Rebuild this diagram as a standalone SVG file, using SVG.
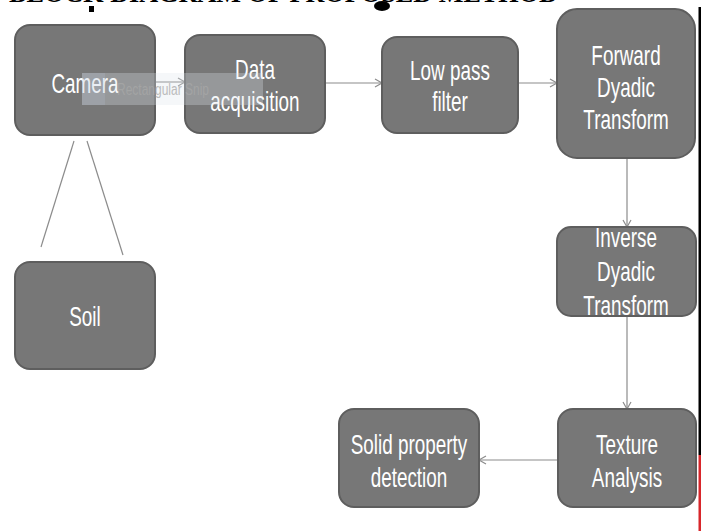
<svg xmlns="http://www.w3.org/2000/svg" width="706" height="531" viewBox="0 0 706 531">
<style>
.box{fill:#777777;stroke:#5e5e5e;stroke-width:2}
.lbl{font-family:"Liberation Sans",Arial,sans-serif;font-size:27px;fill:#ffffff;text-anchor:middle}
.con{stroke:#8c8c8c;stroke-width:1.2;fill:none}
</style>
<defs>
<marker id="arr" markerWidth="10" markerHeight="10" refX="8" refY="5" orient="auto" markerUnits="userSpaceOnUse">
<path d="M1,1 L8,5 L1,9" fill="none" stroke="#8c8c8c" stroke-width="1.2"/>
</marker>
</defs>
<rect width="706" height="531" fill="#ffffff"/>
<text x="9" y="2" font-family="Liberation Serif,serif" font-weight="bold" font-size="26" textLength="549" lengthAdjust="spacingAndGlyphs" fill="#000">BLOCK DIAGRAM OF PROPOSED METHOD</text>
<rect x="89" y="6" width="5" height="6" fill="#000"/>
<ellipse cx="382" cy="6" rx="8" ry="5" fill="#000"/>
<rect x="698.5" y="7" width="2.5" height="448" fill="#000"/>
<rect x="698.5" y="455" width="2.5" height="76" fill="#d8262b"/>
<g id="connectors">
<line class="con" x1="155" y1="82" x2="185" y2="82" marker-end="url(#arr)"/>
<line class="con" x1="325" y1="83" x2="382" y2="83" marker-end="url(#arr)"/>
<line class="con" x1="518" y1="83" x2="557" y2="83" marker-end="url(#arr)"/>
<line class="con" x1="627" y1="158" x2="627" y2="227" marker-end="url(#arr)"/>
<line class="con" x1="627" y1="316" x2="627" y2="409" marker-end="url(#arr)"/>
<line class="con" x1="558" y1="460" x2="479" y2="460" marker-end="url(#arr)"/>
<line class="con" x1="74" y1="141" x2="41" y2="247"/>
<line class="con" x1="87" y1="141" x2="123" y2="255"/>
</g>
<g id="camera">
<rect class="box" x="15" y="25" width="140" height="110" rx="15"/>
<text class="lbl" transform="translate(85,0) scale(0.7,1)" x="0" y="93">Camera</text>
</g>
<g id="data-acquisition">
<rect class="box" x="185" y="35" width="140" height="98" rx="15"/>
<text class="lbl" transform="translate(255,0) scale(0.7,1)"><tspan x="0" y="79">Data</tspan><tspan x="0" y="111">acquisition</tspan></text>
</g>
<g id="low-pass-filter">
<rect class="box" x="382" y="37" width="136" height="96" rx="15"/>
<text class="lbl" transform="translate(450,0) scale(0.7,1)"><tspan x="0" y="80">Low pass</tspan><tspan x="0" y="111">filter</tspan></text>
</g>
<g id="forward-dyadic">
<rect class="box" x="557" y="9" width="138" height="149" rx="20"/>
<text class="lbl" transform="translate(626,0) scale(0.7,1)"><tspan x="0" y="65">Forward</tspan><tspan x="0" y="97">Dyadic</tspan><tspan x="0" y="129">Transform</tspan></text>
</g>
<g id="inverse-dyadic">
<rect class="box" x="557" y="227" width="139" height="89" rx="14"/>
<text class="lbl" transform="translate(626,0) scale(0.7,1)"><tspan x="0" y="247">Inverse</tspan><tspan x="0" y="281">Dyadic</tspan><tspan x="0" y="315">Transform</tspan></text>
</g>
<g id="texture-analysis">
<rect class="box" x="558" y="409" width="138" height="98" rx="15"/>
<text class="lbl" transform="translate(627,0) scale(0.7,1)"><tspan x="0" y="454">Texture</tspan><tspan x="0" y="487">Analysis</tspan></text>
</g>
<g id="solid-property-detection">
<rect class="box" x="339" y="409" width="140" height="98" rx="15"/>
<text class="lbl" transform="translate(409,0) scale(0.7,1)"><tspan x="0" y="454">Solid property</tspan><tspan x="0" y="487">detection</tspan></text>
</g>
<g id="soil">
<rect class="box" x="15" y="262" width="140" height="107" rx="15"/>
<text class="lbl" transform="translate(85,0) scale(0.7,1)" x="0" y="326">Soil</text>
</g>
<g id="snip-overlay">
<rect x="82" y="73" width="181" height="32" fill="#dfe4ec" opacity="0.3"/>
<rect x="82" y="73" width="23" height="32" fill="#b9c9de" opacity="0.2"/>
<text transform="translate(163,0) scale(0.75,1)" x="0" y="95" font-family="Liberation Sans,Arial,sans-serif" font-size="16" text-anchor="middle" fill="#a8a8a8" opacity="0.75">Rectangular Snip</text>
</g>
</svg>
